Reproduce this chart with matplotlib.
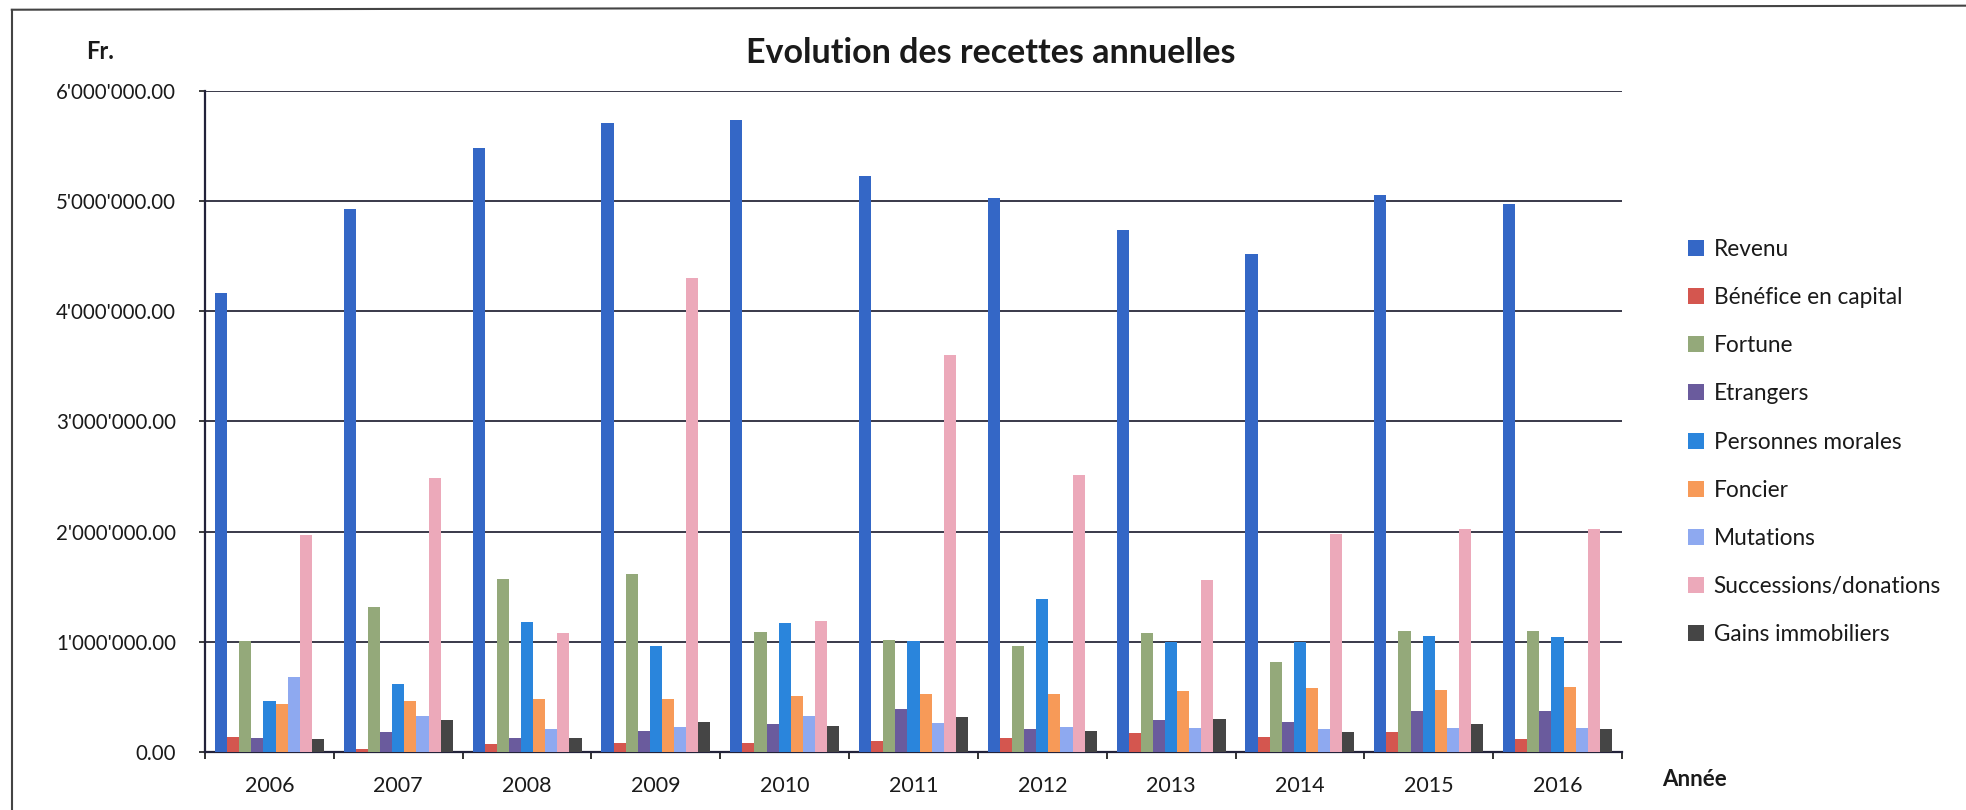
import matplotlib.pyplot as plt
import numpy as np
from matplotlib.ticker import FuncFormatter, FixedLocator
from matplotlib.lines import Line2D

# Data (Fr.)
years = ['2006', '2007', '2008', '2009', '2010', '2011', '2012', '2013', '2014', '2015', '2016']
series_names = ['Revenu', 'Bénéfice en capital', 'Fortune', 'Etrangers', 'Personnes morales',
                'Foncier', 'Mutations', 'Successions/donations', 'Gains immobiliers']

revenu = [4170000, 4930000, 5480000, 5710000, 5740000, 5230000, 5030000, 4740000, 4520000, 5060000, 4970000]
benefice = [140000, 30000, 70000, 80000, 80000, 100000, 130000, 170000, 140000, 180000, 120000]
fortune = [1010000, 1320000, 1570000, 1620000, 1090000, 1020000, 960000, 1080000, 820000, 1100000, 1100000]
etrangers = [130000, 180000, 130000, 190000, 250000, 390000, 210000, 290000, 270000, 370000, 370000]
personnes_morales = [460000, 620000, 1180000, 960000, 1170000, 1010000, 1390000, 1000000, 1000000, 1050000, 1040000]
foncier = [440000, 460000, 480000, 480000, 510000, 530000, 530000, 550000, 580000, 560000, 590000]
mutations = [680000, 330000, 210000, 230000, 330000, 260000, 230000, 220000, 210000, 220000, 220000]
successions = [1970000, 2490000, 1080000, 4300000, 1190000, 3600000, 2510000, 1560000, 1980000, 2020000, 2020000]
gains = [120000, 290000, 130000, 270000, 240000, 320000, 190000, 300000, 180000, 250000, 210000]

all_series = [revenu, benefice, fortune, etrangers, personnes_morales,
              foncier, mutations, successions, gains]
colors = ['#3467C6', '#D4564F', '#94A97A', '#6A5B9D', '#2A85DC',
          '#F79A58', '#8EA9F0', '#ECA9BA', '#454545']

plt.rcParams['font.family'] = ['Lato', 'DejaVu Sans']

fig = plt.figure(figsize=(19.66, 8.10), dpi=100)
ax = fig.add_axes([0.1043, 0.0716, 0.7207, 0.8161])

n = len(all_series)
bar_width = 0.846 / n
index = np.arange(len(years))

for i, (vals, name, col) in enumerate(zip(all_series, series_names, colors)):
    pos = index - 0.423 + bar_width * (i + 0.5)
    ax.bar(pos, vals, bar_width, color=col, label=name, zorder=3)

ax.set_xlim(-0.5, len(years) - 0.5)
ax.set_ylim(0, 6000000)
ax.set_yticks(np.arange(0, 6000001, 1000000))
ax.yaxis.set_major_formatter(FuncFormatter(lambda v, p: f"{v:,.2f}".replace(',', "'")))
ax.yaxis.grid(True, color='#2a2a3a', linewidth=1.3, zorder=0)
ax.set_axisbelow(True)

ax.set_xticks(index)
ax.set_xticklabels(years)
ax.xaxis.set_minor_locator(FixedLocator(np.arange(-0.5, len(years), 1.0)))
ax.tick_params(axis='x', which='major', length=0, pad=17, labelsize=15.5, colors='#1a1a1a')
ax.tick_params(axis='x', which='minor', length=5, width=1.3, color='#222222', direction='out')
ax.tick_params(axis='y', length=4, width=1.2, pad=17, labelsize=14.8, colors='#1a1a1a')

for side in ['top', 'right']:
    ax.spines[side].set_visible(False)
ax.spines['left'].set_color('#22223a')
ax.spines['left'].set_linewidth(1.6)
ax.spines['bottom'].set_color('#22223a')
ax.spines['bottom'].set_linewidth(1.6)

fig.text(0.504, 0.934, 'Evolution des recettes annuelles', ha='center', va='center',
         fontsize=24.5, fontweight='bold', color='#1a1a1a')
fig.text(0.051, 0.936, 'Fr.', ha='center', va='center', fontsize=17, fontweight='bold', color='#1a1a1a')
fig.text(0.8617, 0.038, 'Année', ha='center', va='center', fontsize=16, fontweight='bold', color='#1a1a1a')

leg = ax.legend(loc='upper left', bbox_to_anchor=(1.04, 0.79), frameon=False, fontsize=16.3,
                handlelength=0.7, handleheight=0.7, handletextpad=0.45, labelspacing=1.2,
                borderaxespad=0)
for t in leg.get_texts():
    t.set_color('#1a1a1a')

# chart frame
fig.add_artist(Line2D([0.006, 0.006], [0.0, 0.988], transform=fig.transFigure, color='#444444', lw=1.5))
fig.add_artist(Line2D([0.006, 1.0], [0.988, 0.993], transform=fig.transFigure, color='#444444', lw=1.5))

fig.savefig('out.png', dpi=100)
